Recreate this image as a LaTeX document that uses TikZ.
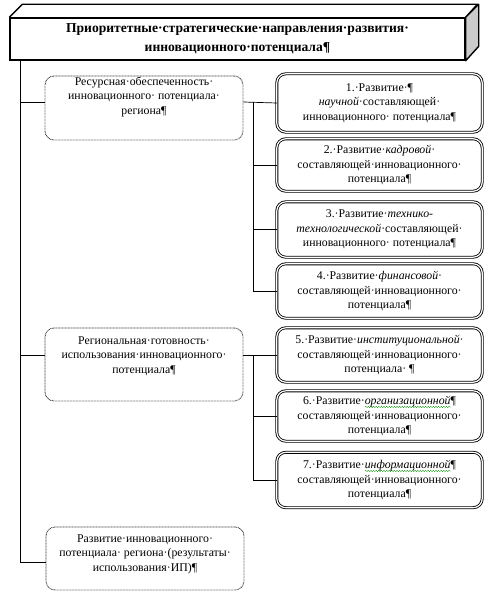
\documentclass[tikz,border=0pt]{standalone}
\usepackage{fontspec}
\setmainfont{Liberation Serif}
\usetikzlibrary{decorations.pathmorphing}
\newdimen\gwavewd
\newsavebox\gwavebox
\newcommand\gwave[1]{\sbox\gwavebox{#1}\gwavewd=\wd\gwavebox\rlap{\tikz[baseline=0pt,x=1pt,y=1pt]\draw[green!55!black,line width=0.35pt,decorate,decoration={snake,amplitude=0.6pt,segment length=2.6pt}] (0pt,-2.4pt) -- (\gwavewd,-2.4pt);}\usebox\gwavebox}
\begin{document}
\begin{tikzpicture}[x=1pt,y=-1pt,
  txt/.style={align=center,font=\fontsize{11.8}{14.5}\selectfont,inner sep=0pt},
  leftbox/.style={draw=black!75,dash pattern=on 0.8pt off 0.7pt,line width=0.9pt,rounded corners=9pt,minimum width=198pt},
  rightbox/.style={minimum width=205pt,align=center,font=\fontsize{11.8}{14.5}\selectfont,inner sep=0pt},
  rframe/.style={draw=black,double=white,double distance=1.2pt,line width=0.85pt,rounded corners=9pt},
  conn/.style={draw=black,line width=0.7pt}]
\useasboundingbox (0,0) rectangle (491,599);
% title 3D box
\node[draw,line width=1.4pt,minimum width=455pt,minimum height=42pt,inner sep=0pt,
  align=center,font=\bfseries\fontsize{13.6}{19}\selectfont] (T) at (237.5,39)
  {Приоритетные·стратегические·направления·развития·\\инновационного·потенциала¶};
\draw[line width=1.4pt,line join=round] (T.north west) -- ++(13,-13) -- ++(455,0) -- (T.north east);
\draw[line width=1.4pt,line join=round,fill=black!20] (T.north east) -- ++(13,-13) -- ++(0,42) -- (T.south east) -- cycle;
% left boxes
\node[leftbox,minimum height=64pt] (A) at (144,108) {};
\node[txt] (At) at (144,97) {Ресурсная·обеспеченность·\\инновационного· потенциала·\\региона¶};
\node[leftbox,minimum height=73pt] (B) at (144,364.5) {};
\node[txt] (Bt) at (144,356) {Региональная·готовность·\\использования·инновационного·\\потенциала¶};
\node[leftbox,minimum height=63pt] (C) at (145,558.5) {};
\node[txt] (Ct) at (145,554) {Развитие·инновационного·\\потенциала· региона·(результаты·\\использования·ИП)¶};
% right boxes
\node[rightbox,minimum height=58pt] (R1) at (379.5,103) {1.·Развитие·¶\\\textit{научной}·составляющей·\\инновационного· потенциала¶};
\node[rightbox,minimum height=52pt] (R2) at (379.5,165) {2.·Развитие·\textit{кадровой}·\\составляющей·инновационного·\\потенциала¶};
\node[rightbox,minimum height=55pt] (R3) at (379.5,229.5) {3.·Развитие·\textit{технико-}\\\textit{технологической}·составляющей·\\инновационного· потенциала¶};
\node[rightbox,minimum height=54pt] (R4) at (379.5,291) {4.·Развитие·\textit{финансовой}·\\составляющей·инновационного·\\потенциала¶};
\node[rightbox,minimum height=54pt] (R5) at (379.5,355) {5.·Развитие·\textit{институциональной}·\\составляющей·инновационного·\\потенциала· ¶};
\node[rightbox,minimum height=50pt] (R6) at (379.5,416) {6.·Развитие·\gwave{\textit{организационной}}¶\\составляющей·инновационного·\\потенциала¶};
\node[rightbox,minimum height=55pt] (R7) at (379.5,480) {7.·Развитие·\gwave{\textit{информационной}}¶\\составляющей·инновационного·\\потенциала¶};
\foreach \r in {R1,R2,R3,R4,R5,R6,R7} \draw[rframe] (\r.north west) rectangle (\r.south east);
% main trunk
\coordinate (trunkTop) at (20,60);
\coordinate (trunkBot) at (20,562);
\draw[conn] (trunkTop) -- (trunkBot) -- (trunkBot -| C.west);
\draw[conn] ([yshift=6pt]A.west -| trunkTop) -- ([yshift=6pt]A.west);
\draw[conn] ([yshift=9.5pt]B.west -| trunkTop) -- ([yshift=9.5pt]B.west);
% branches
\coordinate (b1) at (253,102);
\draw[conn] ([yshift=6pt]A.east) -- (R1.west);
\draw[conn] (b1) -- (b1 |- R4.west);
\foreach \r in {R2,R3,R4} \draw[conn] (b1 |- \r.west) -- (\r.west);
\coordinate (b2) at (253,355);
\draw[conn] ([yshift=9.5pt]B.east) -- (R5.west);
\draw[conn] (b2) -- (b2 |- R7.west);
\foreach \r in {R6,R7} \draw[conn] (b2 |- \r.west) -- (\r.west);
\end{tikzpicture}
\end{document}
